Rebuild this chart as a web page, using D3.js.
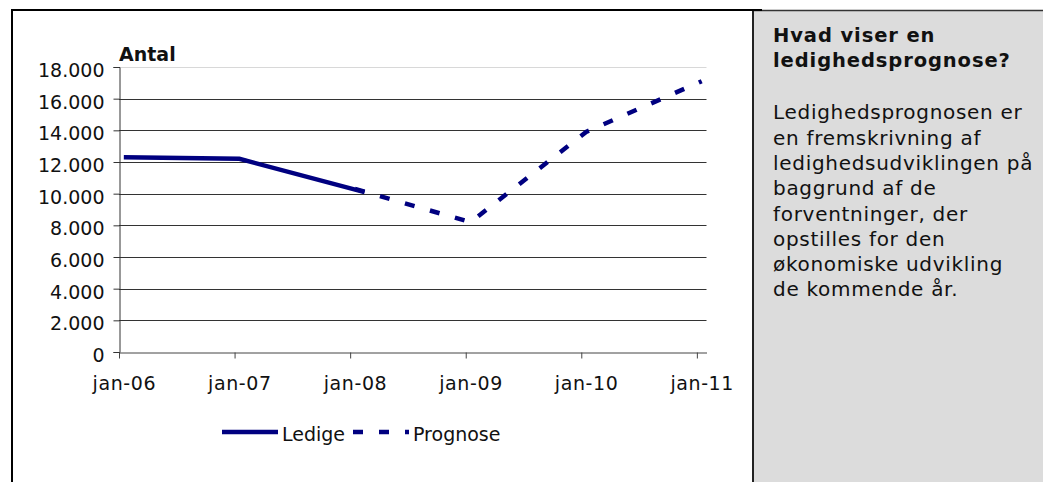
<!DOCTYPE html>
<html lang="da">
<head>
<meta charset="utf-8">
<title>Ledighedsprognose</title>
<script src="https://cdn.jsdelivr.net/npm/d3@7"></script>
<style>
  body { margin: 0; background: #fff; }
  svg text { font-family: "DejaVu Sans", Verdana, sans-serif; fill: #111; }
</style>
</head>
<body>
<script>
// data
var ledigeMonths = ["2006-01", "2007-01", "2008-02"];
var ledigeValues = [12300, 12200, 10100];
var prognoseMonths = ["2008-01", "2009-01", "2010-01", "2011-01"];
var prognoseValues = [10300, 8200, 13900, 17100];
var yTicks = [0, 2000, 4000, 6000, 8000, 10000, 12000, 14000, 16000, 18000];
var xTickMonths = ["2006-01", "2007-01", "2008-01", "2009-01", "2010-01", "2011-01"];
var xTickLabels = ["jan-06", "jan-07", "jan-08", "jan-09", "jan-10", "jan-11"];
var panelTitle = ["Hvad viser en", "ledighedsprognose?"];
var panelText = ["Ledighedsprognosen er", "en fremskrivning af", "ledighedsudviklingen på",
  "baggrund af de", "forventninger, der", "opstilles for den", "økonomiske udvikling",
  "de kommende år."];

var width = 1043, height = 482;
var svg = d3.select("body").append("svg")
  .attr("width", width)
  .attr("height", height);

// month index from "yyyy-mm", counted from jan 2006
function monthIndex(s) {
  var p = s.split("-");
  return (+p[0] - 2006) * 12 + (+p[1] - 1);
}

var x = d3.scaleLinear().domain([0, 61]).range([119, 706.5]);
var y = d3.scaleLinear().domain([0, 18000]).range([352, 67]);

var dk = d3.formatLocale({ decimal: ",", thousands: ".", grouping: [3], currency: ["", ""] });
var fmt = dk.format(",d");

// frame and side panel
svg.append("rect").attr("x", 754).attr("y", 10).attr("width", 289).attr("height", 472)
  .attr("fill", "#dcdcdc");
svg.append("line").attr("x1", 753).attr("x2", 753).attr("y1", 10).attr("y2", 482)
  .attr("stroke", "#222").attr("stroke-width", 2);
svg.append("line").attr("x1", 754).attr("x2", 1043).attr("y1", 10.5).attr("y2", 10.5)
  .attr("stroke", "#333").attr("stroke-width", 1.5);
svg.append("line").attr("x1", 11).attr("x2", 762).attr("y1", 10).attr("y2", 10)
  .attr("stroke", "#000").attr("stroke-width", 2);
svg.append("line").attr("x1", 12).attr("x2", 12).attr("y1", 9).attr("y2", 482)
  .attr("stroke", "#000").attr("stroke-width", 2);

// gridlines
svg.append("g").selectAll("line")
  .data(yTicks.filter(function(d) { return d > 0; }))
  .enter().append("line")
  .attr("x1", 119).attr("x2", 706.5)
  .attr("y1", function(d) { return Math.round(y(d)) + 0.5; })
  .attr("y2", function(d) { return Math.round(y(d)) + 0.5; })
  .attr("stroke", function(d) { return d == 18000 ? "#d8d8d8" : "#333"; })
  .attr("stroke-width", 1);

// y axis
var yAxis = svg.append("g")
  .attr("transform", "translate(119.5,0)")
  .call(d3.axisLeft(y).tickValues(yTicks).tickFormat(fmt).tickSize(6).tickPadding(9));
yAxis.selectAll("text").attr("font-size", "19px").attr("dy", "0.5em")
  .style("font-family", "'DejaVu Sans', Verdana, sans-serif").attr("fill", "#111");
yAxis.select(".domain").attr("stroke", "#333");
yAxis.selectAll(".tick line").attr("stroke", "#333");

// x axis
var xAxis = svg.append("g")
  .attr("transform", "translate(0," + (Math.round(y(0)) + 0.5) + ")")
  .call(d3.axisBottom(x)
    .tickValues(xTickMonths.map(monthIndex))
    .tickFormat(function(d, i) { return xTickLabels[i]; })
    .tickSize(6).tickSizeOuter(0).tickPadding(18));
xAxis.selectAll("text").attr("font-size", "19px")
  .attr("x", x(0.5) - x(0))
  .attr("letter-spacing", "0.6px")
  .style("font-family", "'DejaVu Sans', Verdana, sans-serif").attr("fill", "#111");
xAxis.select(".domain").attr("stroke", "#444");
xAxis.selectAll(".tick line").attr("stroke", "#444");

svg.append("text").attr("x", 119).attr("y", 61)
  .attr("font-size", "19px").attr("font-weight", "bold").text("Antal");

// lines, points sit at the middle of their month
var line = d3.line()
  .x(function(d) { return x(monthIndex(d[0]) + 0.5); })
  .y(function(d) { return y(d[1]); });

svg.append("path")
  .datum(d3.zip(prognoseMonths, prognoseValues))
  .attr("d", line)
  .attr("fill", "none").attr("stroke", "#000080").attr("stroke-width", 4.5)
  .attr("stroke-dasharray", "10,16");

svg.append("path")
  .datum(d3.zip(ledigeMonths, ledigeValues))
  .attr("d", line)
  .attr("fill", "none").attr("stroke", "#000080").attr("stroke-width", 4.5);

// legend
var leg = svg.append("g");
leg.append("line").attr("x1", 222).attr("x2", 278).attr("y1", 432).attr("y2", 432)
  .attr("stroke", "#000080").attr("stroke-width", 4.5);
leg.append("text").attr("x", 282).attr("y", 441).attr("font-size", "19px").text("Ledige");
leg.append("line").attr("x1", 353).attr("x2", 409).attr("y1", 432).attr("y2", 432)
  .attr("stroke", "#000080").attr("stroke-width", 4.5).attr("stroke-dasharray", "10,16");
leg.append("text").attr("x", 413).attr("y", 441).attr("font-size", "19px").text("Prognose");

// side panel text
svg.append("g").selectAll("text")
  .data(panelTitle).enter().append("text")
  .attr("x", 773)
  .attr("y", function(d, i) { return 42 + i * 25.3; })
  .attr("font-size", "19.5px").attr("font-weight", "bold")
  .attr("letter-spacing", "0.9px")
  .text(function(d) { return d; });

svg.append("g").selectAll("text")
  .data(panelText).enter().append("text")
  .attr("x", 773)
  .attr("y", function(d, i) { return 119.3 + i * 25.3; })
  .attr("font-size", "20px")
  .attr("letter-spacing", "0.7px")
  .text(function(d) { return d; });
</script>
</body>
</html>
